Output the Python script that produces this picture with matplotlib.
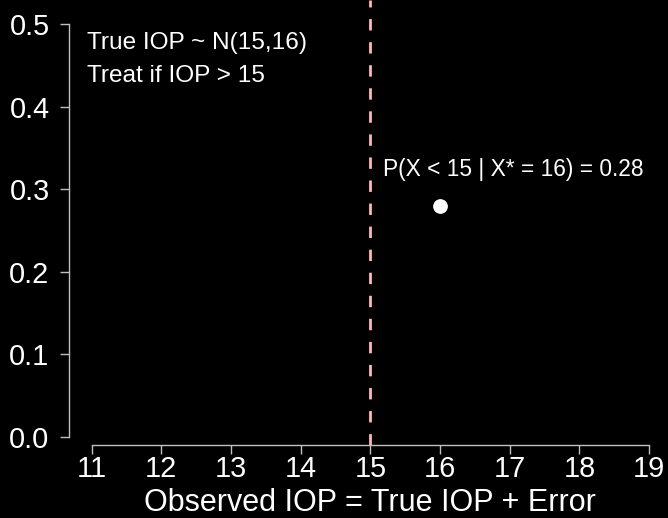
import matplotlib
matplotlib.use("Agg")
from matplotlib import pyplot as plt

# data
x_ticks = [11, 12, 13, 14, 15, 16, 17, 18, 19]
y_ticks = [0.0, 0.1, 0.2, 0.3, 0.4, 0.5]
threshold = 15
obs_x = [16]
obs_p = [0.28]
info_lines = ["True IOP ~ N(15,16)", "Treat if IOP > 15"]
p_label = "P(X < 15 | X* = 16) = 0.28"
x_label = "Observed IOP = True IOP + Error"

plt.rcParams['font.family'] = ['Liberation Sans', 'DejaVu Sans']
fg = 'white'
axis_col = '#c0c0c0'

W, H = 668, 518
fig = plt.figure(figsize=(W / 100, H / 100), dpi=100, facecolor='black')
# plot region in pixels: left 68.5, right 672, top 0, bottom 444.7
ax = fig.add_axes([68.5 / W, (H - 444.7) / H, (672 - 68.5) / W, 444.7 / H])
ax.set_facecolor('black')

ax.set_xlim(10.667, 19.33)
ax.set_ylim(-0.0097, 0.5293)

ax.axvline(threshold, color='#ffb6c1', lw=2, dashes=(4.1, 4.2), zorder=1)
ax.plot(obs_x, obs_p, 'o', color=fg, markersize=9.6, zorder=3)

ax.text(10.93, 0.4696, info_lines[0], color=fg, fontsize=17.6, va='baseline', ha='left')
ax.text(10.93, 0.4303, info_lines[1], color=fg, fontsize=17.6, va='baseline', ha='left')
ax.text(15.18, 0.316, p_label, color=fg, fontsize=16.4, va='baseline', ha='left')

# R-style axes: only left and bottom, spanning the ticks
for side in ['top', 'right']:
    ax.spines[side].set_visible(False)
for side in ['left', 'bottom']:
    ax.spines[side].set_color(axis_col)
    ax.spines[side].set_linewidth(1)
ax.spines['left'].set_bounds(0.0, 0.5)
ax.spines['bottom'].set_bounds(11, 19)

ax.set_xticks(x_ticks)
ax.set_xticklabels([str(v) for v in x_ticks])
ax.set_yticks(y_ticks)
ax.set_yticklabels([f"{v:.1f}" for v in y_ticks])
ax.tick_params(axis='both', colors=axis_col, length=6.6, width=1, labelcolor=fg, labelsize=20.8)
ax.tick_params(axis='y', pad=7)
ax.tick_params(axis='x', pad=0.5)

fig.text(370 / W, 7 / H, x_label, color=fg, fontsize=22, ha='center', va='baseline')

fig.savefig("out.png", dpi=100, facecolor='black')
